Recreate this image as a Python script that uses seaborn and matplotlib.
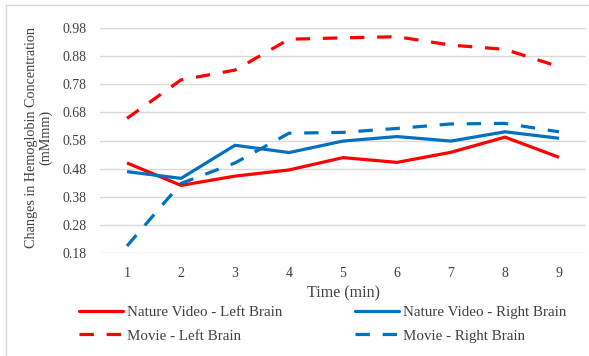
import numpy as np
import pandas as pd
import matplotlib
matplotlib.use("Agg")
import matplotlib.pyplot as plt
from matplotlib.lines import Line2D
import seaborn as sns

# ---- data ----
minutes = [1, 2, 3, 4, 5, 6, 7, 8, 9]
nature_left = [0.50, 0.42, 0.453, 0.475, 0.519, 0.502, 0.538, 0.592, 0.52]
nature_right = [0.469, 0.445, 0.563, 0.537, 0.578, 0.594, 0.578, 0.611, 0.588]
movie_left = [0.659, 0.796, 0.831, 0.941, 0.946, 0.950, 0.920, 0.905, 0.843]
movie_right = [0.204, 0.427, 0.50, 0.606, 0.609, 0.623, 0.639, 0.641, 0.611]
series_names = ["Nature Video - Left Brain", "Nature Video - Right Brain",
                "Movie - Left Brain", "Movie - Right Brain"]
y_ticks = [0.18, 0.28, 0.38, 0.48, 0.58, 0.68, 0.78, 0.88, 0.98]

rows = []
for name, vals in zip(series_names, [nature_left, nature_right, movie_left, movie_right]):
    for m, v in zip(minutes, vals):
        rows.append({"Time": m, "Value": v, "Series": name})
df = pd.DataFrame(rows)

sns.set_style("white")
plt.rcParams["font.family"] = ["Liberation Serif", "DejaVu Serif"]

RED = "#FF0000"
BLUE = "#0070C0"
TXT = "#404040"
palette = {series_names[0]: RED, series_names[1]: BLUE,
           series_names[2]: RED, series_names[3]: BLUE}
dashes = {series_names[0]: "", series_names[1]: "",
          series_names[2]: (4.5, 4.0), series_names[3]: (4.5, 4.0)}

fig = plt.figure(figsize=(5.89, 3.56), dpi=100)
ax = fig.add_axes([100 / 589, 1 - 252.7 / 356, 486 / 589, (252.7 - 28.3) / 356])

sns.lineplot(data=df, x="Time", y="Value", hue="Series", style="Series",
             palette=palette, dashes=dashes, hue_order=series_names,
             style_order=series_names, linewidth=2.3, legend=False, ax=ax)
for ln in ax.get_lines():
    ln.set_solid_capstyle("butt")
    ln.set_dash_capstyle("butt")
    ln.set_solid_joinstyle("round")

ax.set_xlim(0.5, 9.5)
ax.set_ylim(0.18, 0.98)
ax.set_yticks(y_ticks)
ax.set_yticklabels([f"{t:.2f}" for t in y_ticks])
ax.set_xticks(minutes)
ax.set_xticklabels([str(m) for m in minutes])
ax.grid(axis="y", color="#D9D9D9", linewidth=1.0)
ax.set_axisbelow(True)
for s in ax.spines.values():
    s.set_visible(False)
ax.tick_params(axis="both", length=0, labelsize=10, colors=TXT)
ax.tick_params(axis="y", pad=9.5)
ax.tick_params(axis="x", pad=10)
ax.set_xlabel("")
ax.set_ylabel("")

fig.text(343 / 589, 1 - 293 / 356, "Time (min)", ha="center", va="center",
         fontsize=11.5, color=TXT)
fig.text(38.5 / 589, 1 - 137 / 356,
         "Changes in Hemoglobin Concentration\n(mMmm)", rotation=90,
         ha="center", va="center", multialignment="center",
         fontsize=10.2, color=TXT, linespacing=1.05)

handles = [Line2D([0], [0], color=palette[n], linewidth=2.3,
                  linestyle=("-" if dashes[n] == "" else (0, dashes[n])))
           for n in series_names]
order = [0, 2, 1, 3]
leg = fig.legend([handles[i] for i in order], [series_names[i] for i in order],
                 ncol=2, loc="upper left", bbox_to_anchor=(79 / 589, 1 - 305.5 / 356),
                 frameon=False, fontsize=10.8, handlelength=2.9, handletextpad=0.27,
                 columnspacing=4.9, labelspacing=0.68, borderpad=0, borderaxespad=0)
for t in leg.get_texts():
    t.set_color(TXT)

# figure border (top and left visible)
fig.add_artist(Line2D([5.5 / 589, 1.0], [1 - 4.5 / 356, 1 - 4.5 / 356],
                      transform=fig.transFigure, color="#D9D9D9", linewidth=1.0))
fig.add_artist(Line2D([5.5 / 589, 5.5 / 589], [0, 1 - 4.5 / 356],
                      transform=fig.transFigure, color="#D9D9D9", linewidth=1.0))

fig.savefig("out.png", dpi=100, facecolor="white")
